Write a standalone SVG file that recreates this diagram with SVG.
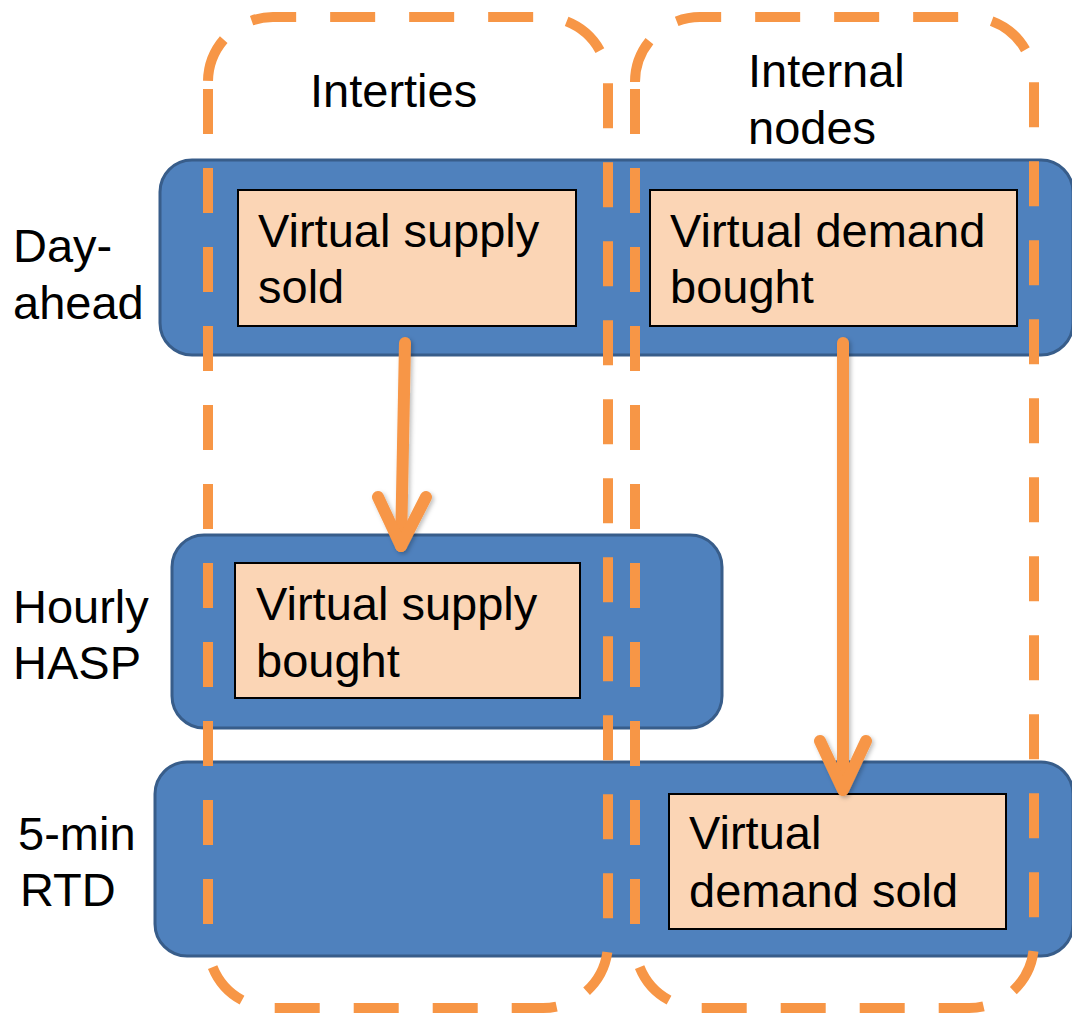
<svg xmlns="http://www.w3.org/2000/svg" width="1072" height="1013" viewBox="0 0 1072 1013">
  <defs>
    <style>
      .bar { fill: #4F81BD; stroke: #385D8A; stroke-width: 3; }
      .box { fill: #FBD5B5; stroke: #000000; stroke-width: 2; }
      .group { fill: none; stroke: #F79646; stroke-width: 10; stroke-dasharray: 45 34; }
      .txt { font-family: "Liberation Sans", Arial, sans-serif; font-size: 47px; fill: #000000; }
      .arrow { fill: none; stroke: #F79646; stroke-width: 12; stroke-linecap: round; stroke-linejoin: round; }
    </style>
    <filter id="shadow" x="-50%" y="-10%" width="200%" height="120%">
      <feDropShadow dx="2" dy="2" stdDeviation="2" flood-color="#000000" flood-opacity="0.25"/>
    </filter>
  </defs>
  <rect width="1072" height="1013" fill="#FFFFFF"/>

  <g id="bar-day-ahead">
    <rect class="bar" x="160" y="160" width="913" height="195" rx="32" ry="32"/>
  </g>
  <g id="bar-hasp">
    <rect class="bar" x="172" y="535" width="550" height="193" rx="32" ry="32"/>
  </g>
  <g id="bar-rtd">
    <rect class="bar" x="155" y="762" width="918" height="194" rx="32" ry="32"/>
  </g>

  <g id="label-day-ahead">
    <text class="txt" x="13" y="262">Day-</text>
    <text class="txt" x="13" y="319">ahead</text>
  </g>
  <g id="label-hasp">
    <text class="txt" x="13" y="623">Hourly</text>
    <text class="txt" x="13" y="679">HASP</text>
  </g>
  <g id="label-rtd">
    <text class="txt" x="18" y="850">5-min</text>
    <text class="txt" x="20" y="906">RTD</text>
  </g>

  <g id="node-vs-sold">
    <rect class="box" x="238" y="190" width="338" height="136"/>
    <text class="txt" x="258" y="247">Virtual supply</text>
    <text class="txt" x="258" y="303">sold</text>
  </g>
  <g id="node-vd-bought">
    <rect class="box" x="650" y="190" width="367" height="136"/>
    <text class="txt" x="670" y="247">Virtual demand</text>
    <text class="txt" x="670" y="303">bought</text>
  </g>
  <g id="node-vs-bought">
    <rect class="box" x="235" y="563" width="345" height="135"/>
    <text class="txt" x="256" y="620">Virtual supply</text>
    <text class="txt" x="256" y="677">bought</text>
  </g>
  <g id="node-vd-sold">
    <rect class="box" x="669" y="794" width="337" height="135"/>
    <text class="txt" x="689" y="849">Virtual</text>
    <text class="txt" x="689" y="907">demand sold</text>
  </g>

  <g id="group-interties">
    <path class="group" stroke-dashoffset="77.9" d="M208,82 A65,65 0 0 1 273,17 H543 A65,65 0 0 1 608,82 V943 A65,65 0 0 1 543,1008 H273 A65,65 0 0 1 208,943"/>
    <path class="group" stroke-dashoffset="72" d="M208,82 V943"/>
    <text class="txt" x="310" y="107">Interties</text>
  </g>
  <g id="group-internal">
    <path class="group" stroke-dashoffset="0.9" d="M635,82 A65,65 0 0 1 700,17 H969 A65,65 0 0 1 1034,82 V943 A65,65 0 0 1 969,1008 H700 A65,65 0 0 1 635,943"/>
    <path class="group" stroke-dashoffset="72" d="M635,82 V943"/>
    <text class="txt" x="748" y="87">Internal</text>
    <text class="txt" x="748" y="144">nodes</text>
  </g>

  <g id="connectors" filter="url(#shadow)">
    <path class="arrow" d="M405,343 L401,546" stroke-linecap="butt"/>
    <path class="arrow" d="M378,497 L401,546 L426,497"/>
    <path class="arrow" d="M843,343 L843,788" stroke-linecap="butt"/>
    <path class="arrow" d="M820,741 L843,790 L866,741"/>
  </g>
</svg>
